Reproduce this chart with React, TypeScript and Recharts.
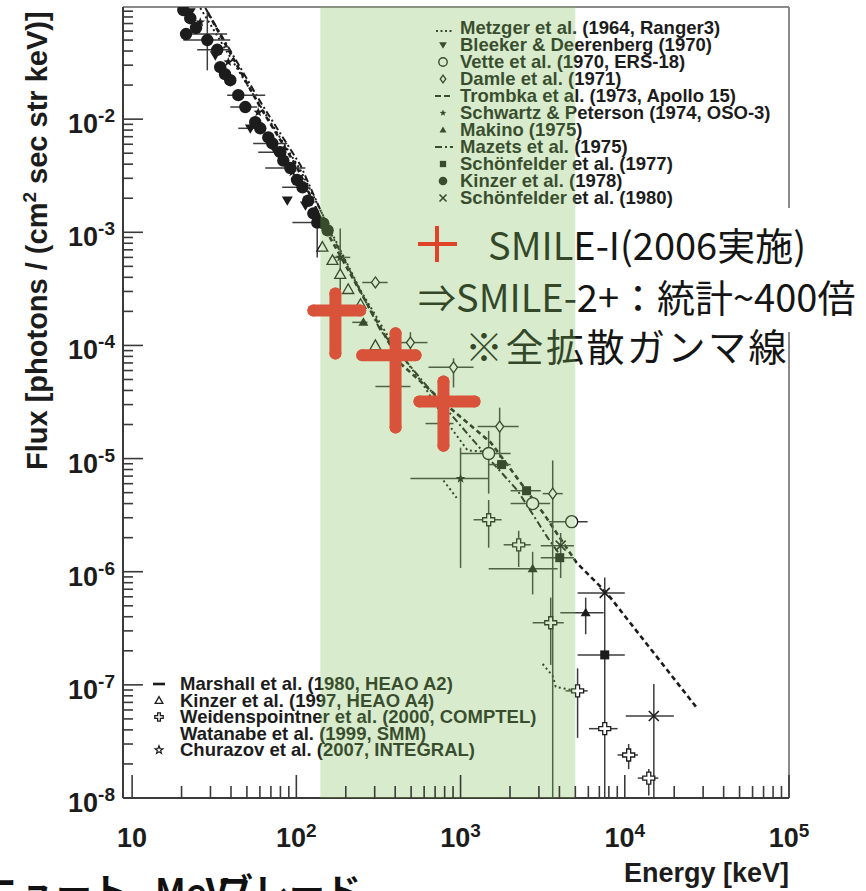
import React from "react";
import { ComposedChart, XAxis, YAxis, Scatter, ErrorBar, Line, ReferenceArea } from "recharts";

// rows: [energy keV, flux, E low, E high, flux low, flux high]
type Row = (number | null)[];

const kinzer1978: Row[] = [
  [20.5, 0.092], [22.6, 0.078], [24.5, 0.064],
  [21.3, 0.0565, 20.2, 37.9],
  [28.7, 0.05, 20.5, 39.6, 0.027, 0.088],
  [33.0, 0.041, 24.9, 39.6],
  [34.4, 0.0288], [36.8, 0.025], [39.6, 0.0221],
  [44.3, 0.0163, 37.9, 64.6],
  [48.9, 0.0128, 39.6, 57.8],
  [56.2, 0.0094],
  [60.3, 0.0083, 44.3, 62.9],
  [67.5, 0.0069],
  [71.4, 0.0061, 54.6, 88.1],
  [79.9, 0.0051, 58.6, 83.3],
  [83.3, 0.0043],
  [91.9, 0.0037, 64.6, 113.6],
  [101, 0.0029],
  [109, 0.0025, 82.0, 116.6],
  [118, 0.0019], [127, 0.00147],
  [134, 0.00122, 94.6, 135, 0.0006, 0.00147],
  [146, 0.0012], [155, 0.00104],
];
const bleeker: Row[] = [
  [22.6, 0.0885], [32.1, 0.0368], [52.5, 0.0083], [74.5, 0.0053], [88.1, 0.00192], [113.6, 0.00173],
];
const schwartz: Row[] = [
  [26.0, 0.072], [38.5, 0.032], [58.6, 0.0115], [94.6, 0.0034], [136, 0.00133],
  [185, 6.0e-4, 168, 213, 3.07e-4, 1.08e-3],
  [1000, 6.65e-6, 495, 1483, 1.08e-6, 1.25e-5],
];
const kinzer1997: Row[] = [
  [144, 7.4e-4], [166, 5.65e-4], [185, 4.25e-4], [207, 3.13e-4], [246, 2.31e-4], [303, 1.0e-4],
];
const damle: Row[] = [
  [303, 3.6e-4, 252, 360],
  [495, 1.06e-4, 431, 629, 7.8e-5, 1.31e-4],
  [906, 6.4e-5, 638, 1200, 4.25e-5, 7.7e-5],
  [1730, 1.92e-5, 1271, 2259, 1.02e-5, 2.82e-5],
  [3640, 4.9e-6, 3162, 4190, 1e-8, 9.6e-6],
];
const vette: Row[] = [
  [1483, 1.11e-5, 1000, 2018, 4.9e-6, 1.76e-5],
  [2748, 4.0e-6, 2018, 3514],
  [4750, 2.77e-6, 3440, 5940],
];
const schoenfelder1977: Row[] = [
  [1778, 8.85e-6, 1483, 2018],
  [2523, 5.2e-6, 2018, 3080],
  [4018, 1.33e-6, 3080, 4900],
  [7550, 1.84e-7, 5160, 10000],
];
const makino: Row[] = [
  [256, 1.6e-4, 219, 271],
  [2748, 1.06e-6, 1483, 3900, 6.3e-7, 1.5e-6],
  [5780, 4.34e-7, 4050, 7440, 2.8e-7, 5.9e-7],
];
const schoenfelder1980: Row[] = [
  [4070, 1.7e-6, 3080, 4900, 8.8e-7, 2.2e-6],
  [7550, 6.5e-7, 5160, 10000, 1e-8, 8.9e-7],
  [15030, 5.3e-8, 10140, 19900, 1e-8, 1.02e-7],
];
const weidenspointner: Row[] = [
  [1483, 2.88e-6, 1200, 1778, 1.63e-6, 4.3e-6],
  [2259, 1.73e-6, 1829, 2673, 1.1e-6, 2.3e-6],
  [3540, 3.54e-7, 2748, 4250, 1.5e-7, 5.9e-7],
  [5160, 8.85e-8, 4360, 5940, 3.4e-8, 1.4e-7],
  [7550, 4.1e-8, 6050, 9040],
  [10560, 2.4e-8, 9040, 12030, 1.8e-8, 3.0e-8],
  [14000, 1.5e-8, 12000, 16000, 1.05e-8, 1.8e-8],
];
const watanabe: Row[] = [
  [385, 4.34e-5, 303, 495],
  [755, 2.04e-5, 612, 906],
];
const smile1: Row[] = [
  [173, 2.04e-4, 127, 245, 8.5e-5, 2.88e-4],
  [402, 8.2e-5, 252, 532, 1.88e-5, 1.28e-4],
  [787, 3.19e-5, 562, 1216, 1.3e-5, 4.8e-5],
];
const smileEdge: Row[] = [[127, 2.04e-4]];

const metzger: Row[] = [
  [26.0, 0.096], [52.5, 0.0181], [106, 0.00354], [173, 8.5e-4], [246, 3.07e-4],
  [374, 1.11e-4], [570, 4.9e-5], [811, 2.17e-5], [1104, 1.18e-5], [1462, 1.15e-5],
];
const metzgerTail: Row[] = [
  [787, 6.4e-6], [946, 4.5e-6], [1200, null], [3162, 1.53e-7], [3640, 1.2e-7], [3800, 9.6e-8], [5020, 8.85e-8],
];
const trombka: Row[] = [
  [29.0, 0.0867], [60.3, 0.01277], [101, 0.00376], [155, 9.8e-4], [431, 6.93e-5], [869, 2.77e-5],
  [1525, 1.39e-5], [3206, 3.26e-6], [5090, 1.2e-6], [7760, 6.5e-7], [27500, 6.25e-8],
];
const mazets: Row[] = [
  [27.9, 0.096], [62.1, 0.0133], [106, 0.00392], [161, 1.0e-3], [325, 1.36e-4], [570, 5.1e-5],
  [906, 2.31e-5], [1525, 9.6e-6], [2228, 5.2e-6], [3390, 2.0e-6], [4190, 1.3e-6],
];

const xMajorTicks = [10, 100, 1000, 10000, 100000];
const xMajorExp = ["", "2", "3", "4", "5"];
const yMajorTicks = [1e-8, 1e-7, 1e-6, 1e-5, 1e-4, 1e-3, 1e-2];
const yMajorExp = ["-8", "-7", "-6", "-5", "-4", "-3", "-2"];

const topLegend = [
  ["dotted", "Metzger et al. (1964, Ranger3)"],
  ["invtri", "Bleeker & Deerenberg (1970)"],
  ["ocircle", "Vette et al. (1970, ERS-18)"],
  ["odiamond", "Damle et al. (1971)"],
  ["dashed", "Trombka et al. (1973, Apollo 15)"],
  ["star", "Schwartz & Peterson (1974, OSO-3)"],
  ["tri", "Makino (1975)"],
  ["dashdot", "Mazets et al. (1975)"],
  ["square", "Schönfelder et al. (1977)"],
  ["circle", "Kinzer et al. (1978)"],
  ["xcross", "Schönfelder et al. (1980)"],
];
const bottomLegend = [
  ["dash", "Marshall et al. (1980, HEAO A2)"],
  ["otri", "Kinzer et al. (1997, HEAO A4)"],
  ["ocross", "Weidenspointner et al. (2000, COMPTEL)"],
  ["none", "Watanabe et al. (1999, SMM)"],
  ["ostar", "Churazov et al. (2007, INTEGRAL)"],
];

const W = 866;
const H = 891;
const INK = "#1c1c1c";
const AXIS = "#3a3a3a";
const SANS = "'Liberation Sans', Arial, sans-serif";
const JP = "'Noto Sans CJK JP', sans-serif";
const RED = "#d9533a";

const xTicks = [
  ...xMajorTicks.slice(0, -1).flatMap((t) => [1, 2, 3, 4, 5, 6, 7, 8, 9].map((m) => t * m)),
  100000,
];
const yTicks = yMajorTicks.flatMap((t) => [1, 2, 3, 4, 5, 6, 7, 8, 9].map((m) => t * m));

const toPoints = (rows: Row[]) =>
  rows.map(([e, f, elo, ehi, flo, fhi]) => ({
    e: e as number,
    f,
    ex: elo != null ? [(e as number) - elo, (ehi as number) - (e as number)] : [0, 0],
    ey: flo != null ? [(f as number) - flo, (fhi as number) - (f as number)] : [0, 0],
  }));

const starPts = (cx: number, cy: number, r: number) =>
  Array.from({ length: 10 }, (_, i) => {
    const a = -Math.PI / 2 + (i * Math.PI) / 5;
    const rr = i % 2 ? r * 0.42 : r;
    return `${cx + rr * Math.cos(a)},${cy + rr * Math.sin(a)}`;
  }).join(" ");

function Marker({ kind, cx, cy, s = 1 }: { kind: string; cx: number; cy: number; s?: number }) {
  switch (kind) {
    case "circle":
      return <circle cx={cx} cy={cy} r={6.2 * s} fill={INK} />;
    case "invtri": {
      const a = 5.5 * s;
      return <polygon points={`${cx - a},${cy - a * 0.7} ${cx + a},${cy - a * 0.7} ${cx},${cy + a}`} fill={INK} />;
    }
    case "tri": {
      const a = 5 * s;
      return <polygon points={`${cx - a},${cy + a * 0.7} ${cx + a},${cy + a * 0.7} ${cx},${cy - a}`} fill={INK} />;
    }
    case "otri": {
      const a = 5.5 * s;
      return (
        <polygon points={`${cx - a},${cy + a * 0.75} ${cx + a},${cy + a * 0.75} ${cx},${cy - a}`} fill="#fff" stroke={INK} strokeWidth={1.3} />
      );
    }
    case "ocircle":
      return <circle cx={cx} cy={cy} r={6 * s} fill="#fff" stroke={INK} strokeWidth={1.4} />;
    case "odiamond": {
      const a = 4 * s;
      const b = 5.5 * s;
      return <polygon points={`${cx},${cy - b} ${cx + a},${cy} ${cx},${cy + b} ${cx - a},${cy}`} fill="#fff" stroke={INK} strokeWidth={1.3} />;
    }
    case "square": {
      const a = 4.5 * s;
      return <rect x={cx - a} y={cy - a} width={2 * a} height={2 * a} fill={INK} />;
    }
    case "star":
      return <polygon points={starPts(cx, cy, 5 * s)} fill={INK} />;
    case "ostar":
      return <polygon points={starPts(cx, cy, 6 * s)} fill="#fff" stroke={INK} strokeWidth={1.2} />;
    case "xcross": {
      const a = 5 * s;
      return (
        <g stroke={INK} strokeWidth={1.6}>
          <line x1={cx - a} y1={cy - a} x2={cx + a} y2={cy + a} />
          <line x1={cx - a} y1={cy + a} x2={cx + a} y2={cy - a} />
        </g>
      );
    }
    case "ocross": {
      const a = 6 * s;
      const b = 2 * s;
      const p = [
        [-b, -a], [b, -a], [b, -b], [a, -b], [a, b], [b, b], [b, a], [-b, a], [-b, b], [-a, b], [-a, -b], [-b, -b],
      ]
        .map(([dx, dy]) => `${cx + dx},${cy + dy}`)
        .join(" ");
      return <polygon points={p} fill="#fff" stroke={INK} strokeWidth={1.3} />;
    }
    default:
      return <g />;
  }
}

function LegendSym({ kind, x, y }: { kind: string; x: number; y: number }) {
  if (kind === "dotted")
    return <line x1={x - 7} x2={x + 10} y1={y + 3} y2={y + 3} stroke={INK} strokeWidth={2} strokeDasharray="2 2.5" />;
  if (kind === "dashed")
    return <line x1={x - 8} x2={x + 10} y1={y} y2={y} stroke={INK} strokeWidth={2} strokeDasharray="6 3" />;
  if (kind === "dashdot")
    return <line x1={x - 8} x2={x + 10} y1={y} y2={y} stroke={INK} strokeWidth={2} strokeDasharray="7 3 2 3" />;
  if (kind === "dash") return <line x1={x - 6} x2={x + 6} y1={y} y2={y} stroke={INK} strokeWidth={2.6} />;
  return <Marker kind={kind} cx={x} cy={y} s={0.7} />;
}

const renderXTick = (p: any) => {
  const { x, y, payload } = p;
  const i = xMajorTicks.indexOf(payload.value);
  const major = i >= 0;
  return (
    <g>
      <line x1={x} x2={x} y1={y} y2={y - (major ? 23 : 12)} stroke={AXIS} strokeWidth={1.6} />
      {major && (
        <text x={x} y={y + 49} textAnchor="middle" fontFamily={SANS} fontWeight={700} fill={INK}>
          <tspan fontSize={27}>10</tspan>
          {xMajorExp[i] && (
            <tspan fontSize={19} dy={-10}>
              {xMajorExp[i]}
            </tspan>
          )}
        </text>
      )}
    </g>
  );
};

const renderYTick = (p: any) => {
  const { x, y, payload } = p;
  const i = yMajorTicks.indexOf(payload.value);
  const major = i >= 0;
  return (
    <g>
      <line x1={x} x2={x + (major ? 20 : 10)} y1={y} y2={y} stroke={AXIS} strokeWidth={1.6} />
      {major && (
        <text x={x - 8} y={y + 14} textAnchor="end" fontFamily={SANS} fontWeight={700} fill={INK}>
          <tspan fontSize={27}>10</tspan>
          <tspan fontSize={19} dy={-11}>
            {yMajorExp[i]}
          </tspan>
        </text>
      )}
    </g>
  );
};

const blackSeries: [Row[], string][] = [
  [watanabe, "none"],
  [damle, "odiamond"],
  [vette, "ocircle"],
  [schoenfelder1977, "square"],
  [makino, "tri"],
  [schoenfelder1980, "xcross"],
  [weidenspointner, "ocross"],
  [kinzer1997, "otri"],
  [bleeker, "invtri"],
  [schwartz, "star"],
  [kinzer1978, "circle"],
];

const lineSeries: [Row[], string, number][] = [
  [metzger, "2 3", 2],
  [metzgerTail, "2 3", 2],
  [trombka, "5 3.5", 2.6],
  [mazets, "7 3 2 3", 2],
];

export default function App() {
  return (
    <div style={{ position: "absolute", left: 0, top: 0, width: W, height: H, background: "#fff", overflow: "hidden" }}>
      <svg width={W} height={H} style={{ position: "absolute", left: 0, top: 0 }}>
        <line x1={123} y1={7} x2={789} y2={7} stroke="#8a8a8a" strokeWidth={2} />
        <line x1={789} y1={7} x2={789} y2={798} stroke="#8a8a8a" strokeWidth={2} />
        <rect x={582} y={208} width={284} height={124} fill="#fff" />

        {topLegend.map(([k, label], i) => (
          <g key={label}>
            <LegendSym kind={k} x={443} y={34 + 17 * i - 6} />
            <text x={460} y={34 + 17 * i} fontFamily={SANS} fontWeight={700} fontSize={18.5} fill={INK}>
              {label}
            </text>
          </g>
        ))}
        {bottomLegend.map(([k, label], i) => (
          <g key={label}>
            <LegendSym kind={k} x={159} y={690 + 16.5 * i - 6} />
            <text x={180} y={690 + 16.5 * i} fontFamily={SANS} fontWeight={700} fontSize={18.5} fill={INK}>
              {label}
            </text>
          </g>
        ))}

        <g fontFamily={JP} fontSize={38} fill="#151515">
          <text x={488} y={260}>SMILE-I(2006実施)</text>
          <text x={418} y={312}>⇒SMILE-2+：統計~400倍</text>
          <text x={465} y={361} letterSpacing={2.5}>※全拡散ガンマ線</text>
        </g>

        <text transform="translate(47,470) rotate(-90)" fontFamily={SANS} fontWeight={700} fontSize={29} fill={INK}>
          Flux [photons / (cm
          <tspan fontSize={19} dy={-11}>2</tspan>
          <tspan dy={11}> sec str keV)]</tspan>
        </text>
        <text x={789} y={882} textAnchor="end" fontFamily={SANS} fontWeight={700} fontSize={27} fill={INK}>
          Energy [keV]
        </text>

        <g fontFamily={JP} fontSize={36} fontWeight={700} fill="#111">
          <text x={-16} y={905}>ニュート</text>
          <text x={155} y={905}>MeV</text>
          <text x={217} y={905}>ブレード</text>
        </g>
      </svg>

      <div style={{ position: "absolute", left: 0, top: 0 }}>
        <ComposedChart width={W} height={H} margin={{ top: 7, right: 77, bottom: 0, left: 0 }}>
          <XAxis
            type="number"
            dataKey="e"
            scale="log"
            domain={[8.8, 100000]}
            allowDataOverflow
            ticks={xTicks}
            interval={0}
            tick={renderXTick}
            tickLine={false}
            tickSize={0}
            tickMargin={0}
            height={93}
            axisLine={{ stroke: AXIS, strokeWidth: 2 }}
          />
          <YAxis
            type="number"
            dataKey="f"
            scale="log"
            domain={[1e-8, 0.098]}
            allowDataOverflow
            ticks={yTicks}
            interval={0}
            tick={renderYTick}
            tickLine={false}
            tickSize={0}
            tickMargin={0}
            width={123}
            axisLine={{ stroke: AXIS, strokeWidth: 2 }}
          />
          {lineSeries.map(([rows, dash, w], i) => (
            <Line
              key={"l" + i}
              data={rows.map(([e, f]) => ({ e, f }))}
              dataKey="f"
              type="linear"
              stroke={INK}
              strokeWidth={w}
              strokeDasharray={dash}
              dot={false}
              activeDot={false}
              isAnimationActive={false}
            />
          ))}
          {blackSeries.map(([rows, kind], i) => (
            <Scatter
              key={"s" + i}
              data={toPoints(rows)}
              isAnimationActive={false}
              shape={(p: any) => <Marker kind={kind} cx={p.cx} cy={p.cy} />}
            >
              <ErrorBar dataKey="ex" direction="x" width={0} stroke="#3c3c3c" strokeWidth={1.5} />
              <ErrorBar dataKey="ey" direction="y" width={0} stroke="#3c3c3c" strokeWidth={1.5} />
            </Scatter>
          ))}
          <ReferenceArea x1={140} x2={5000} fill="#7fc05a" fillOpacity={0.3} stroke="none" zIndex={650} />
          <Scatter
            data={toPoints(smileEdge)}
            isAnimationActive={false}
            zIndex={700}
            shape={(p: any) => <circle cx={p.cx} cy={p.cy} r={5.5} fill="#e8303f" />}
          />
          <Scatter data={toPoints(smile1)} isAnimationActive={false} zIndex={710} shape={() => <g />}>
            <ErrorBar dataKey="ex" direction="x" width={0} stroke={RED} strokeWidth={12} strokeLinecap="round" zIndex={710} />
            <ErrorBar dataKey="ey" direction="y" width={0} stroke={RED} strokeWidth={12} strokeLinecap="round" zIndex={710} />
          </Scatter>
        </ComposedChart>
      </div>

      <svg width={W} height={H} style={{ position: "absolute", left: 0, top: 0, pointerEvents: "none" }}>
        <g stroke="#e04428" strokeWidth={4}>
          <line x1={418} y1={244} x2={457} y2={244} />
          <line x1={437} y1={226} x2={437} y2={262} />
        </g>
      </svg>
    </div>
  );
}
